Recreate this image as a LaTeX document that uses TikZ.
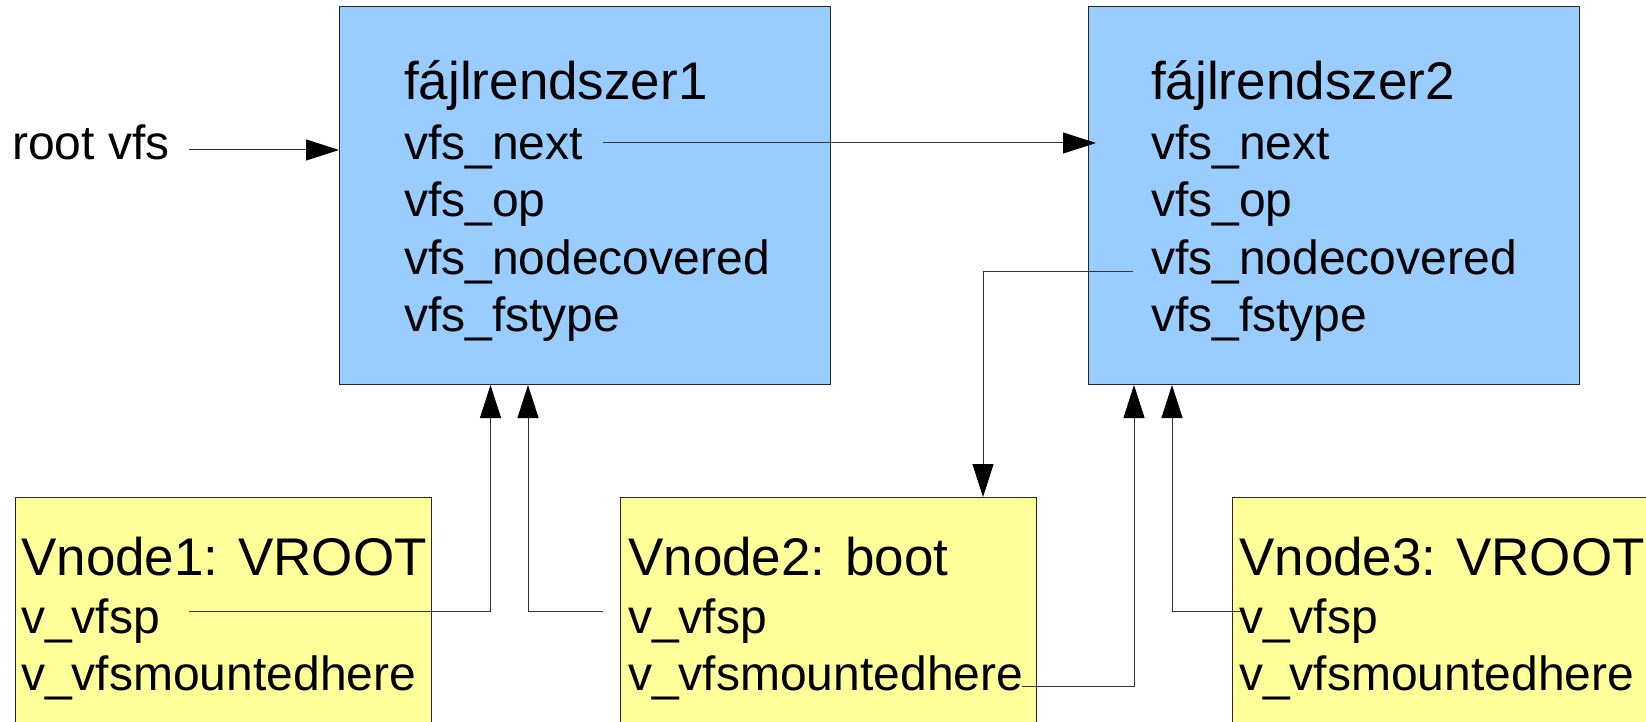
\documentclass[tikz,border=0pt]{standalone}
\usepackage{fontspec}
\setmainfont{Liberation Sans}
\usetikzlibrary{arrows.meta}
\definecolor{fsblue}{HTML}{99CCFF}
\definecolor{vnyellow}{HTML}{FFFF99}
\tikzset{
  fsbox/.style={draw=black!85, line width=1pt, fill=fsblue, minimum width=491pt,
    minimum height=378pt, inner sep=0pt, anchor=north west},
  vnbox/.style={draw=black!85, line width=1pt, fill=vnyellow, minimum width=416pt,
    minimum height=280pt, inner sep=0pt, anchor=north west},
  field/.style={anchor=base west, inner sep=0pt, font=\fontsize{48pt}{57pt}\selectfont},
  title/.style={field, font=\fontsize{53pt}{60pt}\selectfont},
  link/.style={draw=black!80, line width=1pt},
  ptr/.style={link, -{Triangle[length=33pt,width=21pt,black]}},
}
\begin{document}
\begin{tikzpicture}[x=1pt,y=-1pt]
\useasboundingbox (0,0) rectangle (1646,722);
\fill[white] (0,0) rectangle (1646,722);

% file system structures
\node[fsbox] (fs1) at (339,6) {};
\node[fsbox] (fs2) at (1088,6) {};

% vnodes
\node[vnbox] (vn1) at (14.5,497) {};
\node[vnbox] (vn2) at (619.5,497) {};
\node[vnbox] (vn3) at (1232,497) {};

% labels
\node[field] (rootlbl) at (12,160) {root vfs};

\node[title] (fs1name) at (404,100) {fájlrendszer1};
\node[field] (fs1next) at (404,160) {vfs\_next};
\node[field] (fs1op)   at (404,217) {vfs\_op};
\node[field] (fs1cov)  at (404,274) {vfs\_nodecovered};
\node[field] (fs1type) at (404,331) {vfs\_fstype};

\node[title] (fs2name) at (1151,100) {fájlrendszer2};
\node[field] (fs2next) at (1151,160) {vfs\_next};
\node[field] (fs2op)   at (1151,217) {vfs\_op};
\node[field] (fs2cov)  at (1151,274) {vfs\_nodecovered};
\node[field] (fs2type) at (1151,331) {vfs\_fstype};

\node[title] (vn1name) at (21,575) {Vnode1: VROOT};
\node[field] (vn1vfsp) at (21,633) {v\_vfsp};
\node[field] (vn1mnt)  at (21,690) {v\_vfsmountedhere};

\node[title] (vn2name) at (628,575) {Vnode2: boot};
\node[field] (vn2vfsp) at (628,633) {v\_vfsp};
\node[field] (vn2mnt)  at (628,690) {v\_vfsmountedhere};

\node[title] (vn3name) at (1239,575) {Vnode3: VROOT};
\node[field] (vn3vfsp) at (1239,633) {v\_vfsp};
\node[field] (vn3mnt)  at (1239,690) {v\_vfsmountedhere};

% pointer ends
\coordinate (rootout) at (189,150);
\coordinate (nextout) at (603,143);
\coordinate (nextin)  at (1096,143);
\coordinate (covout)  at (1133,271);
\coordinate (covdrop) at (983,0);
\coordinate (v1out)   at (189,611);
\coordinate (v1up)    at (490.5,0);
\coordinate (v2out)   at (603,611);
\coordinate (v2up)    at (528,0);
\coordinate (m2out)   at (1022,686);
\coordinate (m2up)    at (1134,0);
\coordinate (v3out)   at (1241,611);
\coordinate (v3up)    at (1172,0);

% pointers
\draw[ptr] (rootout) -- (rootout -| fs1.west);
\draw[ptr] (nextout) -- (nextin);
\draw[ptr] (covout) -| (covdrop |- vn2.north);
\draw[ptr] (v1out) -| (v1up |- fs1.south);
\draw[ptr] (v2out) -| (v2up |- fs1.south);
\draw[ptr] (m2out) -| (m2up |- fs2.south);
\draw[ptr] (v3out) -| (v3up |- fs2.south);
\end{tikzpicture}
\end{document}
